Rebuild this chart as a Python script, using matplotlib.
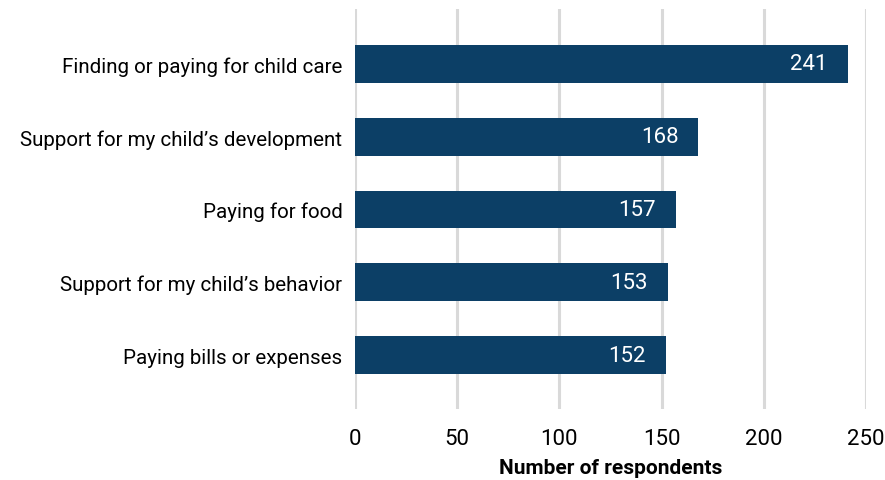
import matplotlib
matplotlib.use('Agg')
import matplotlib.pyplot as plt

categories = [
    'Finding or paying for child care',
    'Support for my child\u2019s development',
    'Paying for food',
    'Support for my child\u2019s behavior',
    'Paying bills or expenses',
]
values = [241, 168, 157, 153, 152]
xticks = [0, 50, 100, 150, 200, 250]

plt.rcParams['font.family'] = ['Roboto', 'DejaVu Sans']

fig = plt.figure(figsize=(8.85, 4.81), dpi=100)
ax = fig.add_axes([355 / 885, 1 - 410 / 481, 511 / 885, 400 / 481])

ypos = list(range(len(categories)))
ax.barh(ypos, values, height=0.52, color='#0c3f66', zorder=3)
for y, v in zip(ypos, values):
    ax.annotate(str(v), (v, y), xytext=(-20, 0), textcoords='offset pixels',
                ha='right', va='center', color='white', fontsize=16, zorder=4)

ax.set_xlim(0, 250)
ax.set_ylim(4.74, -0.755)
ax.set_xticks(xticks)
ax.set_yticks(ypos)
ax.set_yticklabels(categories, fontsize=14.8)
ax.tick_params(axis='x', labelsize=16, length=0, pad=14)
ax.tick_params(axis='y', length=0, pad=9)
ax.grid(axis='x', color='#d9d9d9', linewidth=2.2, zorder=0)
ax.grid(axis='y', visible=False)
for s in ax.spines.values():
    s.set_visible(False)
ax.set_xlabel('Number of respondents', fontsize=15, fontweight='bold', labelpad=6)

fig.savefig('out.png', dpi=100)
